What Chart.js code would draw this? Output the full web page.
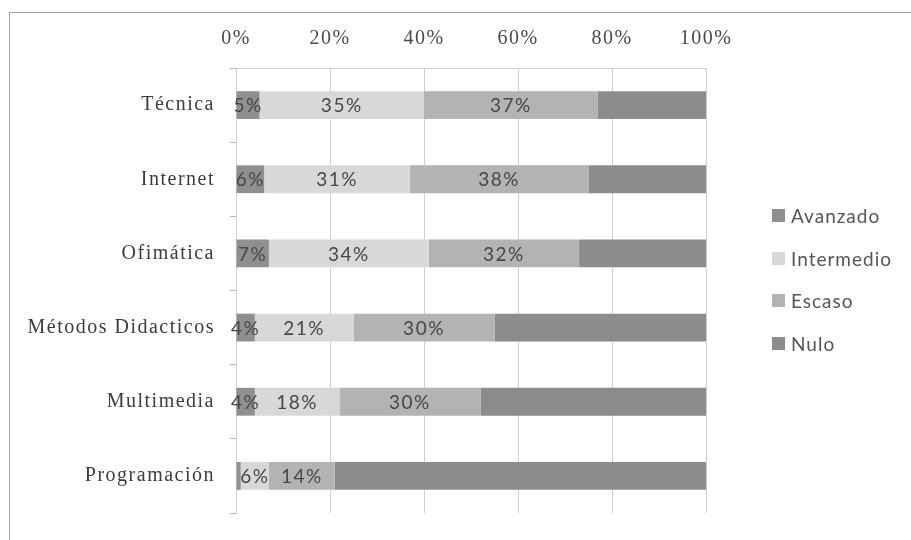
<!DOCTYPE html>
<html lang="es">
<head>
<meta charset="utf-8">
<title>Nivel de conocimiento por área</title>
<script src="https://cdn.jsdelivr.net/npm/chart.js@4/dist/chart.umd.min.js"></script>
<style>
    html, body {
        margin: 0;
        padding: 0;
        background: #fff;
    }

    .lienzo {
        position: relative;
        width: 911px;
        height: 540px;
        overflow: hidden;
    }

    .marco {
        position: absolute;
        left: 9px;
        top: 12px;
        width: 940px;
        height: 600px;
        border-top: 1px solid #a5a5a5;
        border-left: 1px solid #a5a5a5;
    }

    #graficoNiveles {
        position: absolute;
        left: 0;
        top: 0;
    }

    .leyenda {
        position: absolute;
        left: 772px;
        top: 203px;
        font-family: Lato, "Open Sans", sans-serif;
        font-size: 19px;
        letter-spacing: 1px;
        color: #555;
    }

    .leyenda-item {
        display: flex;
        align-items: center;
        height: 25px;
        margin-bottom: 17.5px;
    }

    .leyenda-cor {
        display: inline-block;
        width: 13px;
        height: 13px;
        margin-right: 6px;
    }
</style>
</head>
<body>
<div class="lienzo">
    <div class="marco"></div>
    <canvas id="graficoNiveles" width="911" height="540"></canvas>
    <div class="leyenda" id="leyendaNiveles"></div>
</div>
<script>
    const areas = ['Técnica', 'Internet', 'Ofimática', 'Métodos Didacticos', 'Multimedia', 'Programación'];
    const niveles = ['Avanzado', 'Intermedio', 'Escaso', 'Nulo'];

    const avanzado = [5, 6, 7, 4, 4, 1];
    const intermedio = [35, 31, 34, 21, 18, 6];
    const escaso = [37, 38, 32, 30, 30, 14];
    const nulo = [23, 25, 27, 45, 48, 79];

    const ticksPorcentaje = [0, 20, 40, 60, 80, 100];

    const coresNivel = ['#8f8f8f', '#d8d8d8', '#b3b3b3', '#8c8c8c'];

    // etiquetas de porcentaje dentro de cada segmento (menos "Nulo")
    const etiquetasSegmento = {
        id: 'etiquetasSegmento',
        afterDatasetsDraw: function (chart) {
            const ctx = chart.ctx;
            ctx.save();
            ctx.font = '19px Lato, "Open Sans", sans-serif';
            ctx.fillStyle = '#474747';
            ctx.textAlign = 'center';
            ctx.textBaseline = 'middle';
            ctx.letterSpacing = '1.5px';

            chart.data.datasets.forEach(function (dataset, i) {
                if (i > 2) {
                    return;
                }
                chart.getDatasetMeta(i).data.forEach(function (barra, j) {
                    const valor = dataset.data[j];
                    if (valor < 2) {
                        return;
                    }
                    const centro = barra.getCenterPoint();
                    ctx.fillText(`${valor}%`, centro.x, centro.y + 1);
                });
            });

            ctx.restore();
        }
    };

    // el texto del eje va algo espaciado
    const espaciadoTexto = {
        id: 'espaciadoTexto',
        beforeDraw: function (chart) {
            chart.ctx.letterSpacing = '1.5px';
        }
    };

    const series = [avanzado, intermedio, escaso, nulo];

    const grafico = new Chart(document.getElementById('graficoNiveles'), {
        type: 'bar',
        data: {
            labels: areas,
            datasets: niveles.map(function (nivel, i) {
                return {
                    label: nivel,
                    data: series[i],
                    backgroundColor: coresNivel[i],
                    borderWidth: 0,
                    barPercentage: 0.375,
                    categoryPercentage: 1
                };
            })
        },
        options: {
            indexAxis: 'y',
            responsive: false,
            animation: false,
            layout: {
                padding: { left: 0, top: 0, right: 205, bottom: 22 }
            },
            plugins: {
                legend: { display: false },
                tooltip: { enabled: false }
            },
            scales: {
                x: {
                    position: 'top',
                    stacked: true,
                    min: 0,
                    max: 100,
                    afterBuildTicks: function (scale) {
                        scale.ticks = ticksPorcentaje.map(function (v) {
                            return { value: v };
                        });
                    },
                    afterFit: function (scale) {
                        scale.height = 68;
                    },
                    grid: {
                        color: '#cfcfcf',
                        lineWidth: 1,
                        drawTicks: false
                    },
                    border: {
                        color: '#cfcfcf'
                    },
                    ticks: {
                        padding: 17,
                        color: '#4a4a4a',
                        font: { family: '"Liberation Serif", "Times New Roman", serif', size: 20 },
                        callback: function (valor) {
                            return `${valor}%`;
                        }
                    }
                },
                y: {
                    stacked: true,
                    afterFit: function (scale) {
                        scale.width = 236;
                    },
                    grid: {
                        offset: true,
                        drawOnChartArea: false,
                        tickLength: 6,
                        color: '#b5b5b5'
                    },
                    border: {
                        color: '#cfcfcf'
                    },
                    ticks: {
                        padding: 15,
                        color: '#3c3c3c',
                        font: { family: '"Liberation Serif", "Times New Roman", serif', size: 20 }
                    }
                }
            }
        },
        plugins: [espaciadoTexto, etiquetasSegmento]
    });

    const leyenda = document.getElementById('leyendaNiveles');
    grafico.data.datasets.forEach(function (dataset) {
        const item = document.createElement('div');
        item.className = 'leyenda-item';
        item.innerHTML = `<span class="leyenda-cor" style="background:${dataset.backgroundColor}"></span>${dataset.label}`;
        leyenda.appendChild(item);
    });
</script>
</body>
</html>
